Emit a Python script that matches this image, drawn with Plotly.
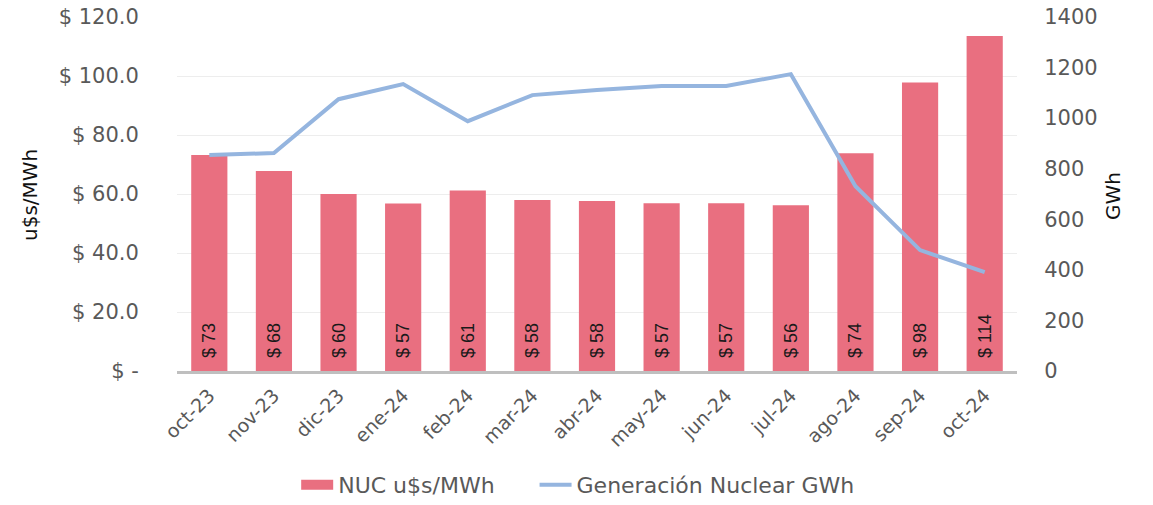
import plotly.graph_objects as go

months = ["oct-23", "nov-23", "dic-23", "ene-24", "feb-24", "mar-24", "abr-24",
          "may-24", "jun-24", "jul-24", "ago-24", "sep-24", "oct-24"]
nuc_price = [73.2, 67.8, 60.0, 56.8, 61.2, 58.0, 57.6, 56.9, 56.9, 56.2, 73.8, 97.8, 113.6]
generation = [854, 862, 1075, 1135, 988, 1091, 1111, 1127, 1127, 1174, 731, 478, 391]
left_ticks = [0, 20, 40, 60, 80, 100, 120]
left_ticktext = ["$ -", "$ 20.0", "$ 40.0", "$ 60.0", "$ 80.0", "$ 100.0", "$ 120.0"]
right_ticks = [0, 200, 400, 600, 800, 1000, 1200, 1400]

FONT = "DejaVu Sans"
GRAY = "#595959"
RED = "#E96F80"
BLUE = "#95B5DF"

W, H = 1153, 505
L, R, T, B = 177, 136, 17, 134

fig = go.Figure()
fig.add_trace(go.Bar(
    x=months, y=nuc_price, name="NUC u$s/MWh", showlegend=False,
    marker=dict(color=RED, line=dict(width=0)),
    width=0.56,
    text=[f"\u00a0\u00a0$ {round(v)}" for v in nuc_price],
    textposition="inside", insidetextanchor="start", textangle=-90,
    textfont=dict(family="Liberation Sans", size=18, color="#1a1a1a"),
    cliponaxis=False,
))
# legend entry for the bars drawn as a wide rectangle swatch
fig.add_trace(go.Scatter(
    x=[None], y=[None], name="NUC u$s/MWh\u00a0\u00a0\u00a0\u00a0\u00a0", mode="lines",
    line=dict(color=RED, width=14), showlegend=True,
))
fig.add_trace(go.Scatter(
    x=months, y=generation, name="Generación Nuclear GWh", yaxis="y2",
    mode="lines", line=dict(color=BLUE, width=4),
))

fig.update_layout(
    width=W, height=H,
    margin=dict(l=L, r=R, t=T, b=B, autoexpand=False),
    plot_bgcolor="white", paper_bgcolor="white",
    font=dict(family=FONT, color=GRAY),
    bargap=0.44,
    showlegend=True,
    legend=dict(orientation="h", x=0.477, xanchor="center", y=-0.322, yanchor="middle",
                font=dict(family=FONT, size=22, color=GRAY), itemwidth=32,
                tracegroupgap=0),
    xaxis=dict(
        tickangle=-45, tickfont=dict(family=FONT, size=19, color=GRAY),
        showgrid=False, showline=True, linecolor="#BFBFBF", linewidth=3,
        ticks="outside", ticklen=3, tickcolor="rgba(0,0,0,0)", automargin=False,
        ticklabeloverflow="allow",
    ),
    yaxis=dict(
        range=[0, 120], tickvals=left_ticks, ticktext=left_ticktext,
        tickfont=dict(family=FONT, size=21, color=GRAY),
        showgrid=True, gridcolor="#EDEDED", gridwidth=1,
        zeroline=False, showline=False,
        ticks="outside", ticklen=33, tickcolor="rgba(0,0,0,0)", automargin=False,
        ticklabeloverflow="allow",
    ),
    yaxis2=dict(
        range=[0, 1400], tickvals=right_ticks, overlaying="y", side="right",
        tickfont=dict(family=FONT, size=21, color=GRAY),
        showgrid=False, zeroline=False, showline=False,
        ticks="outside", ticklen=22, tickcolor="rgba(0,0,0,0)", automargin=False,
        ticklabeloverflow="allow",
    ),
)

pw = W - L - R
ph = H - T - B

def px_to_paper(xp, yp):
    return (xp - L) / pw, (H - B - yp) / ph

for txt, xp, yp in [("u$s/MWh", 16, 195), ("GWh", 1127, 196)]:
    xx, yy = px_to_paper(xp, yp)
    fig.add_annotation(text=txt, x=xx, y=yy, xref="paper", yref="paper", showarrow=False,
                       textangle=-90, font=dict(family=FONT, size=20, color="#111111"))

fig.write_html("out.html", config={"displayModeBar": False},
               post_script="document.body.style.margin='0';document.body.style.overflow='hidden';")
